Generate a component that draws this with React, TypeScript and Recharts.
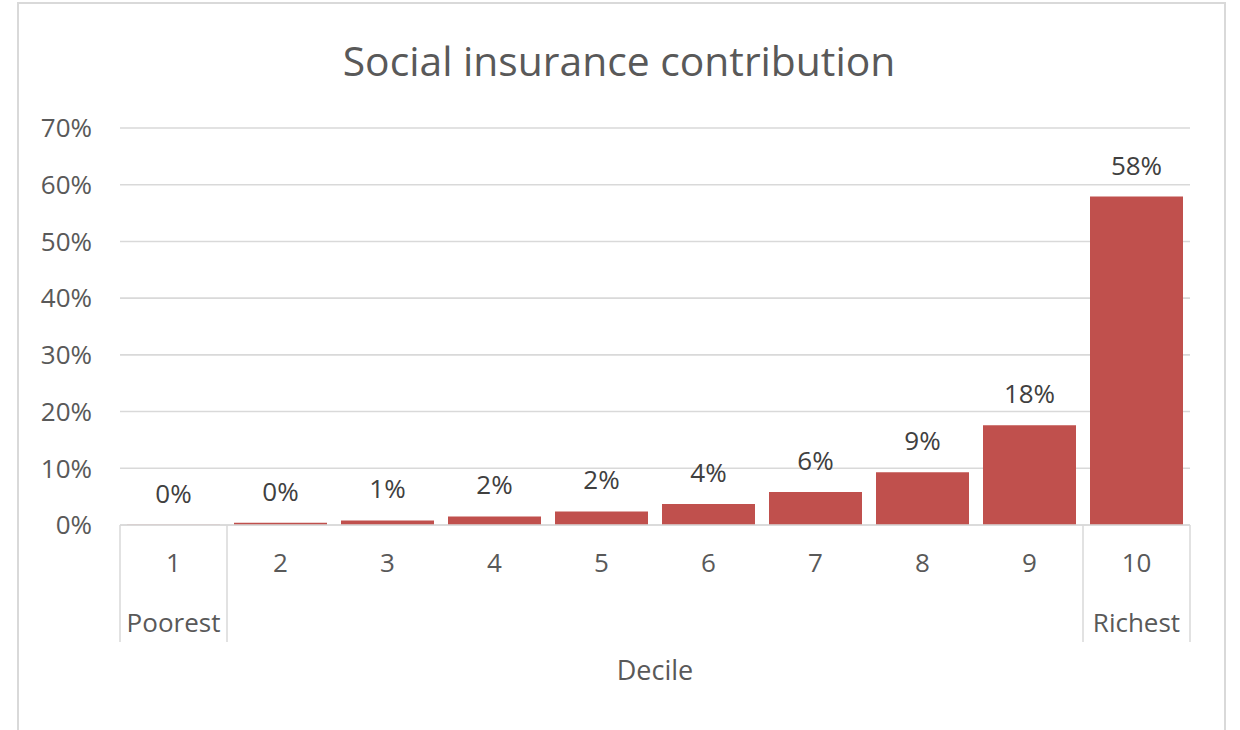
import React from 'react';
import { BarChart, Bar, XAxis, YAxis, CartesianGrid, LabelList } from 'recharts';

const deciles = ['1', '2', '3', '4', '5', '6', '7', '8', '9', '10'];
const groupLabels = ['Poorest', '', '', '', '', '', '', '', '', 'Richest'];
const contribution = [0.0004, 0.004, 0.008, 0.015, 0.024, 0.037, 0.058, 0.093, 0.176, 0.579];
const yTicks = [0, 0.1, 0.2, 0.3, 0.4, 0.5, 0.6, 0.7];

const data = deciles.map((d, i) => ({ decile: d, group: groupLabels[i], value: contribution[i] }));

const FONT = '"Open Sans", "Noto Sans", sans-serif';
const W = 1240;
const H = 730;
const MARGIN = { top: 128, right: 50, bottom: 0, left: 20 };
const Y_AXIS_W = 100;
const X_AXIS_H = 205;
const PLOT_LEFT = MARGIN.left + Y_AXIS_W;
const PLOT_W = W - PLOT_LEFT - MARGIN.right;
const PLOT_BOTTOM = H - MARGIN.bottom - X_AXIS_H;
const BAND = PLOT_W / deciles.length;

const pct = (v: number) => `${Math.round(v * 100)}%`;

const XTick = (props: any) => {
  const { x, payload, index } = props;
  const i = typeof index === 'number' ? index : deciles.indexOf(payload.value);
  const grp = groupLabels[i];
  const edge = i === 0 || i === deciles.length - 1;
  const lineBottom = PLOT_BOTTOM + 117;
  return (
    <g>
      <text x={x} y={PLOT_BOTTOM + 47} textAnchor="middle" fill="#595959" fontSize={26} fontFamily={FONT}>
        {payload.value}
      </text>
      {grp ? (
        <text x={x} y={PLOT_BOTTOM + 107} textAnchor="middle" fill="#595959" fontSize={26} fontFamily={FONT}>
          {grp}
        </text>
      ) : null}
      {edge ? (
        <line x1={x - BAND / 2} x2={x - BAND / 2} y1={PLOT_BOTTOM} y2={lineBottom} stroke="#d9d9d9" strokeWidth={1.5} />
      ) : null}
      {edge ? (
        <line x1={x + BAND / 2} x2={x + BAND / 2} y1={PLOT_BOTTOM} y2={lineBottom} stroke="#d9d9d9" strokeWidth={1.5} />
      ) : null}
    </g>
  );
};

export default function App() {
  return (
    <div style={{ position: 'absolute', left: 0, top: 0, width: W, height: H, background: '#ffffff', fontFamily: FONT }}>
      <div
        style={{
          position: 'absolute',
          left: 17,
          top: 2,
          width: 1209,
          height: 730,
          border: '2px solid #d9d9d9',
          boxSizing: 'border-box',
        }}
      />
      <div
        style={{
          position: 'absolute',
          left: 0,
          width: W - 2,
          top: 32,
          textAlign: 'center',
          fontSize: 40.8,
          color: '#595959',
          fontFamily: FONT,
          lineHeight: '56px',
        }}
      >
        Social insurance contribution
      </div>
      <div style={{ position: 'absolute', left: 0, top: 0 }}>
        <BarChart width={W} height={H} data={data} margin={MARGIN} barSize={93}>
          <CartesianGrid vertical={false} stroke="#d9d9d9" strokeWidth={1.6} />
          <XAxis
            dataKey="decile"
            height={X_AXIS_H}
            axisLine={{ stroke: '#d9d9d9', strokeWidth: 1.6 }}
            tickLine={false}
            interval={0}
            tick={<XTick />}
            label={{ value: 'Decile', position: 'insideBottom', offset: 50, fill: '#595959', fontSize: 27, fontFamily: FONT }}
          />
          <YAxis
            width={Y_AXIS_W}
            domain={[0, 0.7]}
            ticks={yTicks}
            tickFormatter={pct}
            axisLine={false}
            tickLine={false}
            tickSize={0}
            tickMargin={28}
            tick={{ fill: '#595959', fontSize: 26, fontFamily: FONT }}
          />
          <Bar dataKey="value" fill="#c0504d" isAnimationActive={false}>
            <LabelList
              dataKey="value"
              position="top"
              offset={22}
              formatter={(v: any) => pct(Number(v))}
              fill="#404040"
              fontSize={26}
              fontFamily={FONT}
            />
          </Bar>
        </BarChart>
      </div>
    </div>
  );
}
